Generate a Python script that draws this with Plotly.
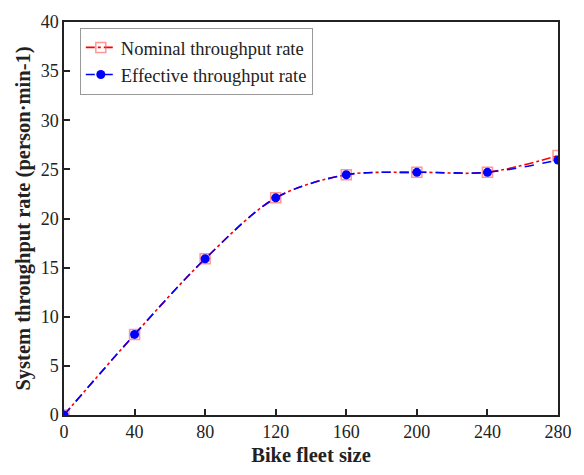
import plotly.graph_objects as go

fleet = [0, 40, 80, 120, 160, 200, 240, 280]
nominal = [0, 8.2, 15.9, 22.1, 24.45, 24.7, 24.7, 26.4]
effective = [0, 8.2, 15.9, 22.1, 24.45, 24.7, 24.7, 25.95]
x_ticks = [0, 40, 80, 120, 160, 200, 240, 280]
y_ticks = [0, 5, 10, 15, 20, 25, 30, 35, 40]

FONT = "Liberation Serif"

fig = go.Figure()
fig.add_trace(go.Scatter(
    x=fleet, y=nominal, name="Nominal throughput rate",
    mode="lines+markers", line=dict(color="red", width=1.6, dash="dashdot", shape="spline", smoothing=0.9),
    marker=dict(symbol="square-open", size=10, color="rgba(255,80,80,0.6)", line=dict(width=1.5)),
))
fig.add_trace(go.Scatter(
    x=fleet, y=effective, name="Effective throughput rate",
    mode="lines+markers", line=dict(color="blue", width=1.6, dash="dash", shape="spline", smoothing=0.9),
    marker=dict(symbol="circle", size=9, color="blue"),
))

axis_common = dict(
    showline=True, linecolor="#222", linewidth=1.5, mirror=True,
    ticks="inside", ticklen=6, tickwidth=1.5, tickcolor="#222",
    showgrid=False, zeroline=False,
    tickfont=dict(family=FONT, size=18, color="#222"),
)
fig.update_xaxes(range=[0, 280], tickvals=x_ticks,
                 title=dict(text="<b>Bike fleet size</b>", font=dict(family=FONT, size=20.5, color="#222"), standoff=6),
                 **axis_common)
fig.update_yaxes(range=[0, 40], tickvals=y_ticks,
                 title=dict(text="<b>System throughput rate (person·min-1)</b>", font=dict(family=FONT, size=20.5, color="#222"), standoff=4),
                 **axis_common)

fig.update_layout(
    width=584, height=475,
    margin=dict(l=64, r=21, t=15, b=57),
    plot_bgcolor="white", paper_bgcolor="white",
    legend=dict(x=0.032, y=0.985, xanchor="left", yanchor="top",
                bordercolor="#999", borderwidth=1, bgcolor="white",
                font=dict(family=FONT, size=18.5, color="#222"),
                tracegroupgap=0),
    showlegend=True,
)
fig.write_html("out.html")
